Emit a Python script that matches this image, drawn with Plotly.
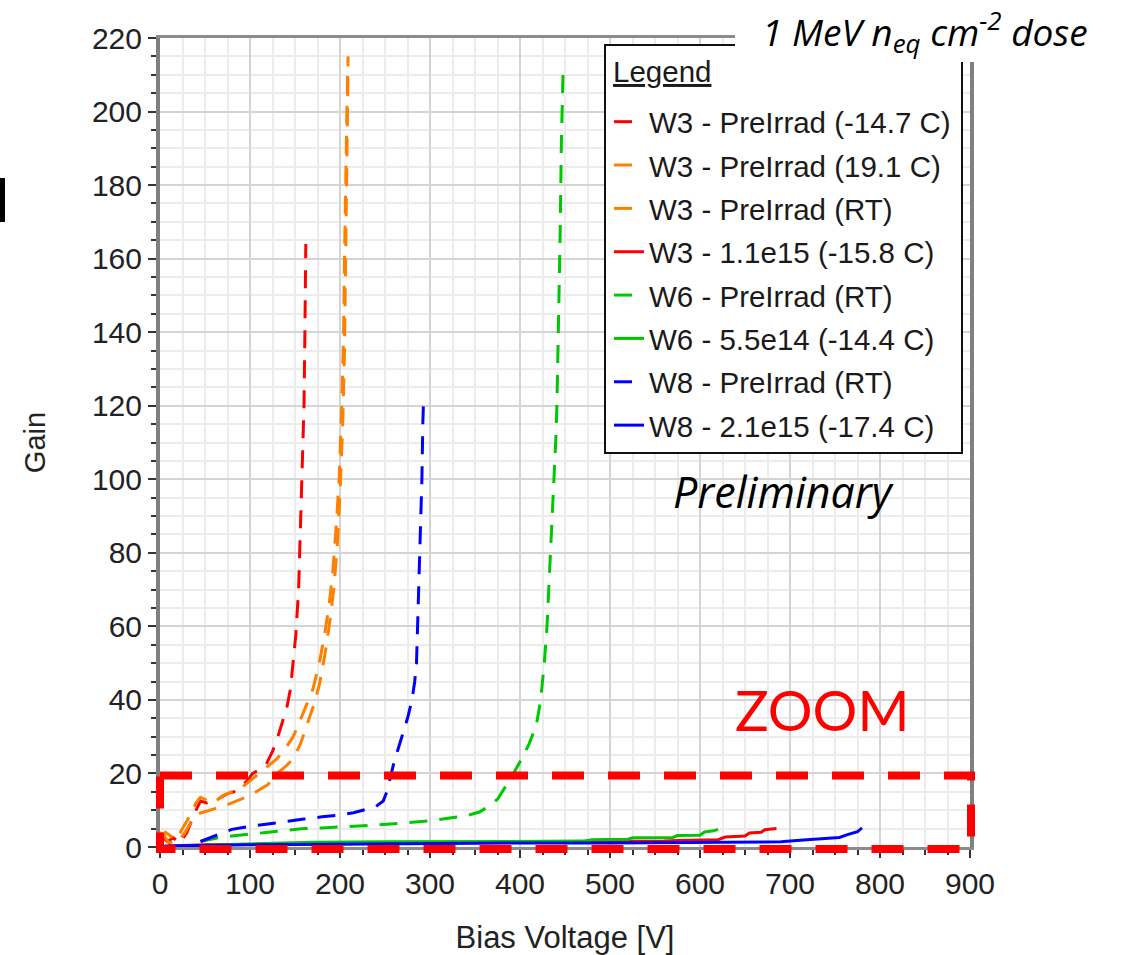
import plotly.graph_objects as go

# ---------------- data ----------------
w3_pre_m147_v = [2, 8, 15, 22, 30, 38, 45, 52, 60, 68, 75, 82, 90, 97, 103, 110, 118, 125,
                 131, 136, 141, 145, 148, 151, 154, 156, 158, 160, 161, 162]
w3_pre_m147_g = [3, 1.5, 2.5, 1, 4, 9, 12.5, 12, 12.5, 13.5, 14.5, 15, 16.5, 18, 20, 21, 22.5, 26,
                 30, 34, 38, 43, 50, 58, 70, 85, 100, 120, 140, 164]

w3_pre_191_v = [0, 5, 10, 18, 25, 32, 40, 45, 50, 55, 62, 70, 80, 90, 100, 110, 120, 130, 140,
                148, 155, 162, 170, 177, 183, 188, 192, 196, 199, 202, 204, 205, 206, 207, 208, 209]
w3_pre_191_g = [4, 3, 1, 2, 5, 8, 12, 13.5, 13, 12, 12.5, 14, 15, 16, 18, 20, 22, 24, 27,
                30, 34, 38, 43, 50, 58, 66, 75, 88, 100, 120, 140, 160, 180, 195, 205, 215]

w3_pre_rt_v = [0, 6, 12, 20, 28, 35, 42, 48, 55, 62, 70, 80, 90, 100, 110, 120, 130, 140, 148,
               156, 163, 170, 177, 183, 188, 193, 197, 200, 203, 205, 206, 207, 208, 209]
w3_pre_rt_g = [2, 4, 3, 1.5, 4, 7, 9, 9.5, 10, 10.5, 11, 12, 13, 14, 15.5, 17, 20, 22, 24,
               28, 33, 38, 44, 52, 60, 70, 82, 96, 115, 135, 155, 175, 195, 213]

w3_irr_v = [10, 50, 100, 150, 200, 250, 300, 350, 400, 450, 500, 515, 560, 575, 600, 620, 628,
            650, 655, 668, 672, 685]
w3_irr_g = [0.3, 0.6, 0.7, 0.8, 0.9, 1.0, 1.0, 1.1, 1.1, 1.2, 1.3, 1.5, 1.6, 1.8, 1.9, 2.0, 2.7,
            3.0, 3.8, 4.0, 4.7, 5.0]

w6_pre_rt_v = [45, 55, 65, 80, 100, 120, 140, 160, 180, 200, 220, 240, 260, 280, 300, 320, 340,
               355, 365, 375, 382, 388, 395, 402, 410, 418, 423, 427, 430, 434, 437, 440, 441,
               443, 444.5, 446, 447, 448]
w6_pre_rt_g = [1.5, 2, 2.5, 3, 3.6, 4, 4.5, 5, 5.2, 5.4, 5.6, 6, 6.3, 6.7, 7.1, 7.8, 8.5,
               9.5, 11, 13, 15.5, 18, 21, 24, 28, 33, 40, 50, 60, 80, 95, 112, 120,
               144, 165, 192, 205, 212]

w6_irr_v = [50, 100, 150, 170, 250, 300, 400, 470, 480, 520, 525, 570, 575, 600, 605, 615, 620]
w6_irr_g = [0.5, 0.8, 1.0, 1.3, 1.4, 1.4, 1.5, 1.6, 2.0, 2.1, 2.5, 2.6, 3.1, 3.2, 4.1, 4.4, 4.8]

w8_pre_rt_v = [45, 55, 65, 80, 100, 120, 140, 160, 180, 200, 215, 230, 240, 248, 252, 256, 260,
               265, 270, 275, 280, 283, 285, 287, 289, 291, 292, 293]
w8_pre_rt_g = [1.5, 2.5, 3.5, 4.8, 5.6, 6.3, 7, 7.6, 8.2, 8.7, 9.3, 10.2, 11, 12.5, 15, 19, 23,
               27, 31, 35, 40, 45, 50, 65, 80, 100, 115, 123]

w8_irr_v = [5, 50, 100, 150, 200, 300, 385, 400, 500, 560, 600, 690, 715, 740, 755, 763, 770,
            775, 780]
w8_irr_g = [0.3, 0.5, 0.6, 0.7, 0.8, 0.9, 1.0, 1.1, 1.1, 1.2, 1.3, 1.4, 1.9, 2.4, 2.6, 3.3, 3.8,
            4.2, 5.2]

series_names = ["W3 - PreIrrad (-14.7 C)", "W3 - PreIrrad (19.1 C)", "W3 - PreIrrad (RT)",
                "W3 - 1.1e15 (-15.8 C)", "W6 - PreIrrad (RT)", "W6 - 5.5e14 (-14.4 C)",
                "W8 - PreIrrad (RT)", "W8 - 2.1e15 (-17.4 C)"]
series_x = [w3_pre_m147_v, w3_pre_191_v, w3_pre_rt_v, w3_irr_v, w6_pre_rt_v, w6_irr_v,
            w8_pre_rt_v, w8_irr_v]
series_y = [w3_pre_m147_g, w3_pre_191_g, w3_pre_rt_g, w3_irr_g, w6_pre_rt_g, w6_irr_g,
            w8_pre_rt_g, w8_irr_g]
series_colors = ["#ff0000", "#ff8000", "#ff8000", "#ff0000", "#00c800", "#00c800",
                 "#0000ff", "#0000ff"]
series_dashed = [True, True, True, False, True, False, True, False]

x_ticks = [0, 100, 200, 300, 400, 500, 600, 700, 800, 900]
y_ticks = [0, 20, 40, 60, 80, 100, 120, 140, 160, 180, 200, 220]

# ---------------- figure ----------------
W, H = 1130, 955
ML, MR, MT, MB = 160, 160, 38, 108
PW, PH = W - ML - MR, H - MT - MB


def px_x(p):
    return (p - ML) / PW


def px_y(p):
    return (H - MB - p) / PH


fig = go.Figure()
for i, (name, xs, ys, col, dsh) in enumerate(zip(series_names, series_x, series_y,
                                                  series_colors, series_dashed)):
    fig.add_trace(go.Scatter(
        x=xs, y=ys, mode="lines", name=name, legendgroup="g%d" % i,
        line=dict(color=col, width=3, dash="18px,12px" if dsh else "solid"),
    ))

AXFONT = "Liberation Sans, Arial, sans-serif"
tick_col = "#333333"

fig.update_layout(
    width=W, height=H,
    margin=dict(l=ML, r=MR, t=MT, b=MB, pad=0, autoexpand=False),
    paper_bgcolor="white", plot_bgcolor="white",
    font=dict(family=AXFONT, color="#222222"),
    showlegend=True,
    legend=dict(
        x=px_x(609), y=px_y(96), xanchor="left", yanchor="top",
        bgcolor="rgba(0,0,0,0)", borderwidth=0,
        font=dict(family=AXFONT, size=29.5, color="#1a1a1a"),
        traceorder="grouped", tracegroupgap=2,
    ),
    xaxis=dict(
        range=[0, 900], tickvals=x_ticks, ticktext=[str(v) for v in x_ticks],
        ticks="outside", ticklen=8, tickwidth=2, tickcolor=tick_col,
        tickfont=dict(size=30, color="#222222"), automargin=False,
        showline=True, linecolor="#8c8c8c", linewidth=3, mirror=True,
        showgrid=True, gridcolor="#d4d4d4", gridwidth=2, zeroline=False,
        minor=dict(dtick=25, ticks="outside", ticklen=5, tickwidth=2, tickcolor=tick_col,
                   showgrid=True, gridcolor="#ececec", gridwidth=1.5),
        title=dict(text="Bias Voltage [V]", font=dict(size=31, color="#222222"), standoff=30),
    ),
    yaxis=dict(
        range=[0, 220], tickvals=y_ticks, ticktext=[str(v) for v in y_ticks],
        ticks="outside", ticklen=8, tickwidth=2, tickcolor=tick_col,
        tickfont=dict(size=30, color="#222222"), automargin=False,
        showline=True, linecolor="#808080", linewidth=4, mirror=True,
        showgrid=True, gridcolor="#d4d4d4", gridwidth=2, zeroline=False,
        minor=dict(dtick=5, ticks="outside", ticklen=5, tickwidth=2, tickcolor=tick_col,
                   showgrid=True, gridcolor="#ececec", gridwidth=1.5),
        title=dict(text="Gain", font=dict(size=29, color="#222222"), standoff=39),
    ),
    xaxis2=dict(
        overlaying="x", anchor="y", side="bottom", range=[0, 900], tickvals=x_ticks,
        ticks="inside", ticklen=8, tickwidth=2, tickcolor=tick_col, automargin=False,
        showticklabels=False, showgrid=False, showline=False, zeroline=False,
        minor=dict(dtick=25, ticks="inside", ticklen=5, tickwidth=2, tickcolor=tick_col,
                   showgrid=False),
    ),
    yaxis2=dict(
        overlaying="y", anchor="x", side="left", range=[0, 220], tickvals=y_ticks,
        ticks="inside", ticklen=8, tickwidth=2, tickcolor=tick_col, automargin=False,
        showticklabels=False, showgrid=False, showline=False, zeroline=False,
        minor=dict(dtick=5, ticks="inside", ticklen=5, tickwidth=2, tickcolor=tick_col,
                   showgrid=False),
    ),
)

shapes = []
# legend box
shapes.append(dict(type="rect", xref="paper", yref="paper", layer="above",
                   x0=px_x(605), x1=px_x(962), y0=px_y(453), y1=px_y(45),
                   fillcolor="white", line=dict(color="#111111", width=2)))
# white label box at top right
shapes.append(dict(type="rect", xref="paper", yref="paper", layer="above",
                   x0=px_x(735), x1=px_x(1135), y0=px_y(62), y1=px_y(-5),
                   fillcolor="white", line=dict(width=0)))
# ZOOM region (dashed red box), path drawn from top-left clockwise
shapes.append(dict(type="rect", xref="paper", yref="paper", layer="above",
                   x0=px_x(160), y0=px_y(775.5), x1=px_x(971), y1=px_y(849),
                   fillcolor="rgba(0,0,0,0)", line=dict(color="#ff0000", width=8, dash="32px,24px")))
# clipped glyph at far left
shapes.append(dict(type="rect", xref="paper", yref="paper", layer="above",
                   x0=px_x(-2), x1=px_x(5), y0=px_y(222), y1=px_y(178),
                   fillcolor="black", line=dict(width=0)))
fig.update_layout(shapes=shapes)

# legend heading
fig.add_annotation(xref="paper", yref="paper", x=px_x(611), y=px_y(71),
                   xanchor="left", yanchor="middle", showarrow=False,
                   text="<u>Legend</u>",
                   font=dict(family=AXFONT, size=29.5, color="#1a1a1a"))

SLIDE_FONT = "'Open Sans', Lato, sans-serif"
fig.add_annotation(xref="paper", yref="paper", x=px_x(925), y=px_y(31),
                   xanchor="center", yanchor="middle", showarrow=False,
                   text="1 MeV n<sub>eq</sub> cm<sup>-2</sup> dose",
                   font=dict(family=SLIDE_FONT, size=37, color="black", style="italic"))
fig.add_annotation(xref="paper", yref="paper", x=px_x(783), y=px_y(491),
                   xanchor="center", yanchor="middle", showarrow=False,
                   text="Preliminary",
                   font=dict(family=SLIDE_FONT, size=43, color="black", style="italic"))
fig.add_annotation(xref="paper", yref="paper", x=px_x(821.5), y=px_y(709),
                   xanchor="center", yanchor="middle", showarrow=False,
                   text="ZOOM",
                   font=dict(family="Lato, sans-serif", size=56, color="#ff0000"))

fig.write_html("out.html")
